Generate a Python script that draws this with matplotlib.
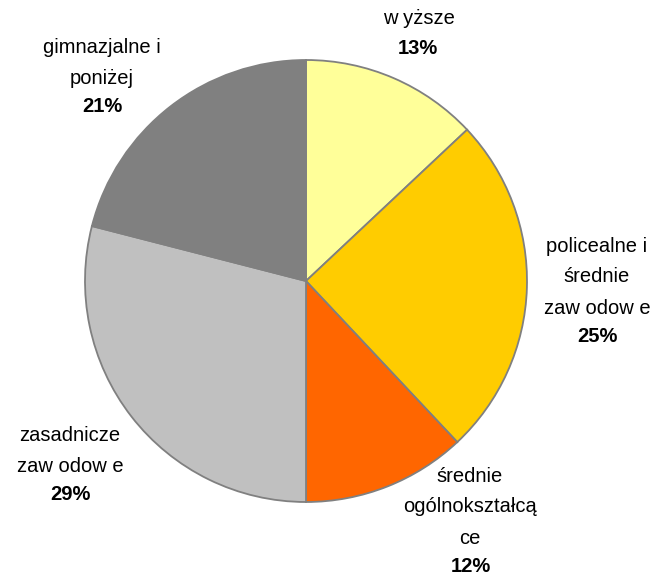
import matplotlib.pyplot as plt

# dane
labels = ['w yższe', 'policealne i\nśrednie\nzaw odow e', 'średnie\nogólnokształcą\nce',
          'zasadnicze\nzaw odow e', 'gimnazjalne i\nponiżej']
values = [13, 25, 12, 29, 21]
colors = ['#FFFF99', '#FFCC00', '#FF6600', '#C0C0C0', '#808080']

W, H = 654, 577
cx, cy, r = 306, 281, 221

# pozycje etykiet (piksele): srodek nazwy, srodek procentu
name_pos = [(419, 19), (597, 277), (470, 507), (70, 451), (102, 63)]
pct_pos = [(418, 48), (597, 336), (471, 566), (70, 495), (102, 107)]

plt.rcParams['font.family'] = ['Liberation Sans', 'DejaVu Sans']

fig = plt.figure(figsize=(W / 100, H / 100), dpi=100)
ax = fig.add_axes([(cx - r) / W, (H - cy - r) / H, 2 * r / W, 2 * r / H])
ax.pie(values, colors=colors, startangle=90, counterclock=False, radius=1,
       wedgeprops=dict(edgecolor='#808080', linewidth=1.3))
ax.set_xlim(-1, 1)
ax.set_ylim(-1, 1)
ax.axis('off')

def to_data(px, py):
    return (px - cx) / r, (cy - py) / r

fs = 14.5
for lab, v, npos, ppos in zip(labels, values, name_pos, pct_pos):
    x, y = to_data(*npos)
    ax.text(x, y, lab, ha='center', va='center', fontsize=fs, linespacing=1.8)
    x, y = to_data(*ppos)
    ax.text(x, y, f'{v}%', ha='center', va='center', fontsize=fs, fontweight='bold')

fig.savefig('out.png', dpi=100)
